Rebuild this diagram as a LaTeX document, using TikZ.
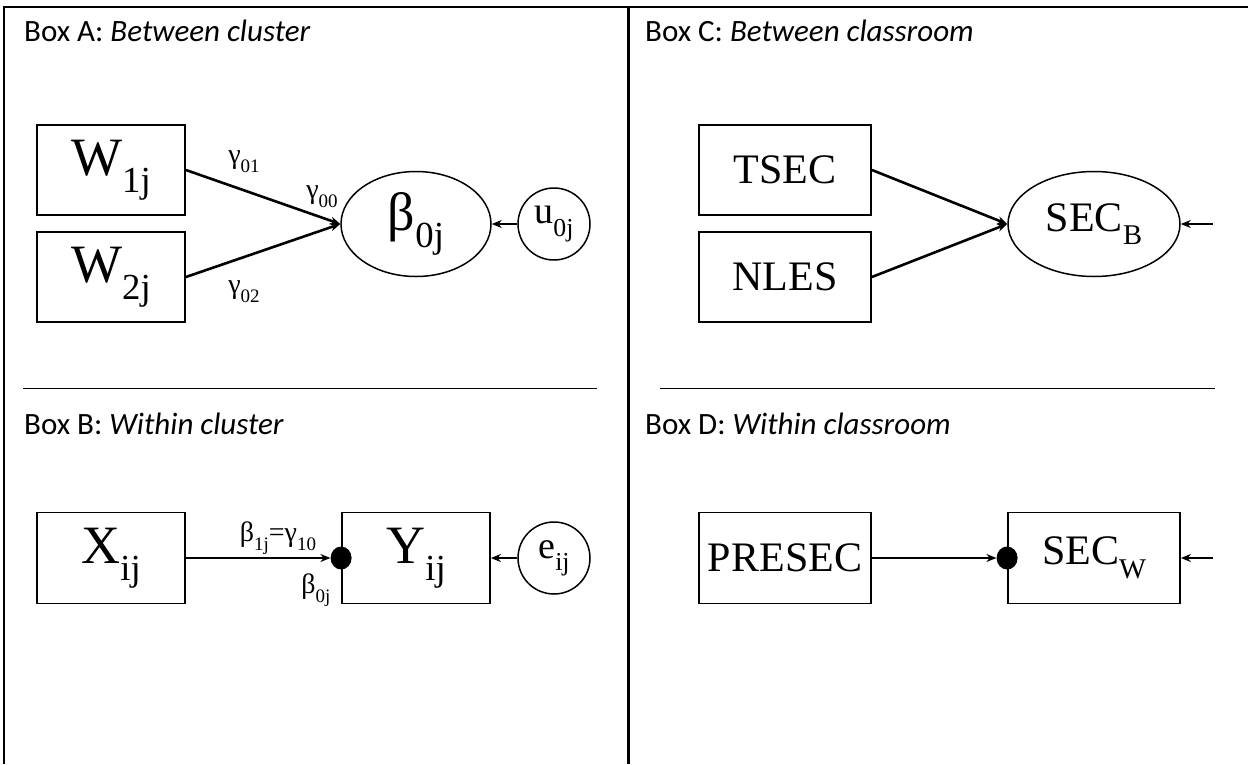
\documentclass[tikz,border=0pt]{standalone}
\usepackage{fontspec}
\setmainfont{Liberation Serif}
\newfontfamily\labfont{Carlito}
\usetikzlibrary{arrows.meta,shapes.geometric}
\newcommand\subx[1]{{\raisebox{-0.32em}{\scalebox{0.68}{#1}}}}
\begin{document}
\begin{tikzpicture}[x=1pt,y=-1pt,
  varbox/.style={draw,line width=1.8pt,rectangle,inner sep=0pt},
  latent/.style={draw,line width=1.5pt,ellipse,inner sep=0pt},
  errc/.style={draw,line width=1.5pt,circle,inner sep=0pt,minimum size=72pt},
  path/.style={line width=2.6pt,-{Stealth[length=10pt,width=8pt]}},
  big/.style={font=\fontsize{54}{54}\selectfont},
  mid/.style={font=\fontsize{42}{42}\selectfont},
  small/.style={font=\fontsize{38}{38}\selectfont},
  coef/.style={font=\fontsize{28}{28}\selectfont,inner sep=1pt},
  head/.style={font=\labfont\fontsize{31}{31}\selectfont,anchor=west,inner sep=0pt},
  sep/.style={line width=1pt},
  dotc/.style={ellipse,fill=black,inner sep=0pt,minimum width=21pt,minimum height=23pt}]
\useasboundingbox (0,0) rectangle (1248,764);
% frame
\draw[line width=2pt] (4,764) -- (4,7) -- (1248,7);
\draw[line width=3pt] (628,7) -- (628,764);
\draw[sep] (23,388) -- (597,388);
\draw[sep] (660,388) -- (1215,388);
% headings
\node[head] (hA) at (24,31) {Box A: \textit{Between cluster}};
\node[head] (hB) at (24,424) {Box B: \textit{Within cluster}};
\node[head] (hC) at (645,31) {Box C: \textit{Between classroom}};
\node[head] (hD) at (645,424) {Box D: \textit{Within classroom}};
% Box A
\node[varbox,big,minimum width=148pt,minimum height=90pt] (w1) at (111,170) {W\subx{1j}};
\node[varbox,big,minimum width=148pt,minimum height=90pt] (w2) at (111,277) {W\subx{2j}};
\node[latent,big,minimum width=150pt,minimum height=105pt] (b0) at (416,224) {β\subx{0j}};
\node[errc,small] (u0) at (554,224) {u\subx{0j}};
\draw[path] (w1.east) -- (b0.west);
\draw[path] (w2.east) -- (b0.west);
\draw[path] (u0) -- (b0);
\node[coef] (g01) at (244,162) {γ\subx{01}};
\node[coef] (g00) at (322,197) {γ\subx{00}};
\node[coef] (g02) at (244,292) {γ\subx{02}};
% Box B
\node[varbox,big,minimum width=148pt,minimum height=91pt] (x) at (111,558) {X\subx{ij}};
\node[varbox,big,minimum width=148pt,minimum height=91pt] (y) at (416,558) {Y\subx{ij}};
\node[errc,small] (e) at (554,558) {e\subx{ij}};
\node[dotc] (dB) at (y.west) {};
\draw[path] (x.east) -- (dB.west);
\draw[path] (e) -- (y);
\node[coef] (b1) at (278,538) {β\subx{1j}=γ\subx{10}};
\node[coef] (b0l) at (316,590) {β\subx{0j}};
% Box C
\node[varbox,mid,minimum width=172pt,minimum height=90pt] (tsec) at (785,170) {TSEC};
\node[varbox,mid,minimum width=172pt,minimum height=90pt] (nles) at (785,277) {NLES};
\node[latent,mid,minimum width=172pt,minimum height=105pt] (secb) at (1094,224) {SEC\subx{B}};
\coordinate (cin) at (1213,224);
\draw[path] (tsec.east) -- (secb.west);
\draw[path] (nles.east) -- (secb.west);
\draw[path] (cin) -- (secb.east);
% Box D
\node[varbox,mid,minimum width=172pt,minimum height=91pt] (pre) at (785,558) {PRESEC};
\node[varbox,mid,minimum width=172pt,minimum height=91pt] (secw) at (1094,558) {SEC\subx{W}};
\node[dotc] (dD) at (secw.west) {};
\coordinate (din) at (1213,558);
\draw[path] (pre.east) -- (dD.west);
\draw[path] (din) -- (secw.east);
\end{tikzpicture}
\end{document}
